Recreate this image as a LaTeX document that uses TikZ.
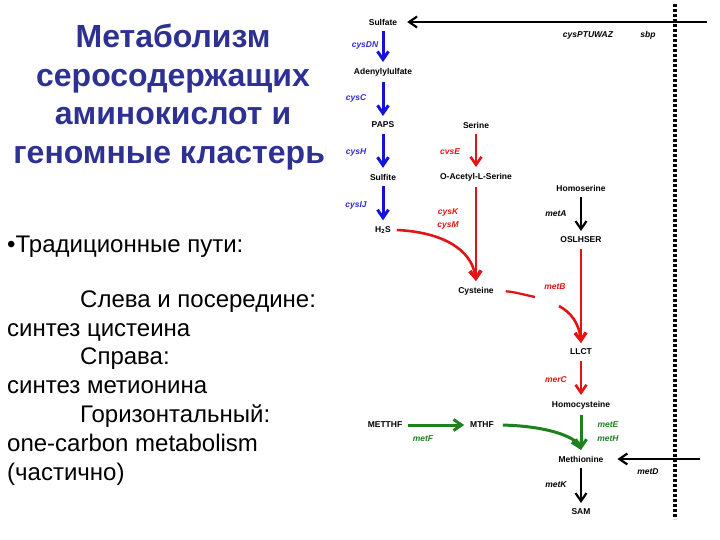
\documentclass[tikz,border=0pt]{standalone}
\usepackage{fontspec}
\setmainfont{Liberation Sans}
\usepackage{xcolor}
\usetikzlibrary{arrows.meta}

\definecolor{titleblue}{RGB}{46,49,146}
\definecolor{sulfblue}{RGB}{20,20,215}
\definecolor{genblue}{RGB}{45,45,200}
\definecolor{cysred}{RGB}{228,20,20}
\definecolor{onegreen}{RGB}{30,128,30}

\tikzset{
  met/.style={font=\fontsize{8.5}{10}\selectfont\bfseries, inner sep=3pt, outer sep=3pt},
  gene/.style={font=\fontsize{8.5}{10}\selectfont\bfseries\itshape, inner sep=0pt},
  body/.style={font=\fontsize{24}{28}\selectfont, anchor=base west, inner sep=0pt},
  headline/.style={font=\fontsize{32}{38}\selectfont\bfseries, text=titleblue, anchor=base, inner sep=0pt},
  flow/.style={-{Straight Barb[length=8pt,width=11pt]}, line width=3pt},
  blueflow/.style={flow, sulfblue},
  redflow/.style={flow, cysred, line width=2.6pt},
  greenflow/.style={flow, onegreen},
  blackflow/.style={flow, black, line width=2.2pt},
  divider/.style={line width=3.2pt, dash pattern=on 3pt off 2pt}
}

\begin{document}
\begin{tikzpicture}[x=1pt,y=-1pt]
  \useasboundingbox (0,0) rectangle (720,540);
  % title
  \begin{scope}
    \clip (0,0) rectangle (325,540);
    \foreach \t [count=\i] in {Метаболизм, серосодержащих, аминокислот и, геномные кластеры}
      \node[headline] (title\i) at (173,{9.5+38.5*\i}) {\t};
  \end{scope}
  % text
  \node[body] (trad) at (7,252) {\textbullet Традиционные пути:};
  \node[body] (left) at (80,307) {Слева и посередине:};
  \node[body] (cyssyn) at (7,336) {синтез цистеина};
  \node[body] (right) at (80,364) {Справа:};
  \node[body] (metsyn) at (7,393) {синтез метионина};
  \node[body] (horiz) at (80,422) {Горизонтальный:};
  \node[body] (onec) at (7,451) {one-carbon metabolism};
  \node[body] (part) at (7,480) {(частично)};

  % sulfate assimilation
  \node[met] (sulfate) at (383,22) {Sulfate};
  \node[met] (aps) at (383,72) {Adenylylulfate};
  \node[met] (paps) at (383,125) {PAPS};
  \node[met] (sulfite) at (383,177) {Sulfite};
  \node[met] (h2s) at (383,230) {H\textsubscript{2}S};
  \draw[blueflow] (sulfate) -- (aps);
  \draw[blueflow] (aps) -- (paps);
  \draw[blueflow] (paps) -- (sulfite);
  \draw[blueflow] (sulfite) -- (h2s);
  \node[gene, genblue] (cysdn) at (365,45) {cysDN};
  \node[gene, genblue] (cysc) at (356,98) {cysC};
  \node[gene, genblue] (cysh) at (356,152) {cysH};
  \node[gene, genblue] (cysij) at (356,205) {cysIJ};

  % transport
  \coordinate (sbpin) at (707,22);
  \draw[blackflow, shorten >=4pt] (sbpin) -- (sulfate.east);
  \node[gene] (cysptu) at (588,35) {cysPTUWAZ};
  \node[gene] (sbp) at (648,35) {sbp};
  \coordinate (divtop) at (675,4);
  \coordinate (divbot) at (675,519);
  \draw[divider] (divtop) -- (divbot);

  % cysteine
  \node[met] (serine) at (476,125) {Serine};
  \node[met] (oas) at (476,177) {O-Acetyl-L-Serine};
  \node[met] (cysteine) at (476,291) {Cysteine};
  \draw[redflow] (serine) -- (oas);
  \draw[redflow] (oas) -- (cysteine);
  \draw[redflow] (h2s.east) .. controls (440,232) and (472,248) .. (cysteine.north);
  \node[gene, cysred] (cyse) at (450,152) {cvsE};
  \node[gene, cysred] (cysk) at (448,212) {cysK};
  \node[gene, cysred] (cysm) at (448,225) {cysM};

  % methionine
  \node[met] (homoser) at (581,188) {Homoserine};
  \node[met] (oslhser) at (581,240) {OSLHSER};
  \node[met] (llct) at (581,352) {LLCT};
  \node[met] (homocys) at (581,405) {Homocysteine};
  \node[met] (methionine) at (581,459) {Methionine};
  \node[met] (sam) at (581,512) {SAM};
  \draw[blackflow] (homoser) -- (oslhser);
  \draw[redflow] (oslhser) -- (llct);
  \coordinate (metbgapa) at (535,297);
  \coordinate (metbgapb) at (559,306);
  \draw[cysred, line width=2.3pt, shorten <=6pt] (cysteine.east) to[out=-3,in=168] (metbgapa);
  \draw[redflow] (metbgapb) .. controls (570,312) and (579,322) .. (llct.north);
  \draw[redflow] (llct) -- (homocys);
  \draw[greenflow] (homocys) -- (methionine);
  \draw[blackflow] (methionine) -- (sam);
  \coordinate (metdin) at (700,459);
  \draw[blackflow, shorten >=8pt] (metdin) -- (methionine.east);
  \node[gene] (meta) at (556,214) {metA};
  \node[gene, cysred] (metb) at (555,287) {metB};
  \node[gene, cysred] (metc) at (556,380) {merC};
  \node[gene, onegreen] (mete) at (608,425) {metE};
  \node[gene, onegreen] (meth) at (608,439) {metH};
  \node[gene] (metd) at (648,472) {metD};
  \node[gene] (metk) at (556,485) {metK};

  % one-carbon
  \node[met] (metthf) at (385,425) {METTHF};
  \node[met] (mthf) at (482,425) {MTHF};
  \draw[greenflow] (metthf) -- (mthf);
  \draw[greenflow, shorten <=3pt] (mthf.east) .. controls (545,426) and (575,436) .. (methionine.north);
  \node[gene, onegreen] (metf) at (423,439) {metF};
\end{tikzpicture}
\end{document}
